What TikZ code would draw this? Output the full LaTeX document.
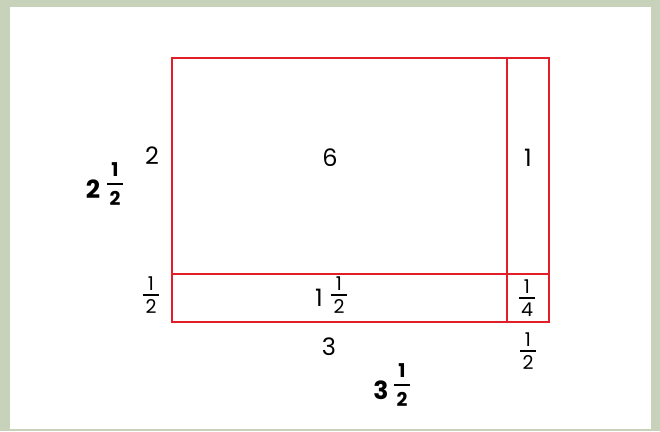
\documentclass[tikz,border=0pt]{standalone}
\usepackage{amsmath}
\usepackage{fontspec}
\setmainfont{Poppins}
\definecolor{bgframe}{RGB}{200,210,186}
\definecolor{boxred}{RGB}{226,30,42}
\newcommand\regfont{\fontsize{24}{26}\selectfont}
\newcommand\boldfont{\fontsize{25}{27}\selectfont\bfseries}
\newcommand\smallfont{\fontsize{19}{20}\selectfont}
\newcommand\smallbold{\fontsize{19}{20}\selectfont\bfseries}
\newcommand\fr[4]{$\displaystyle\genfrac{}{}{#1}{}{\mbox{\makebox[16pt]{#2#3}}}{\mbox{\makebox[16pt]{#2#4}}}$}
\begin{document}
\begin{tikzpicture}[x=1pt,y=-1pt,
  lbl/.style={inner sep=0pt,outer sep=0pt,font=\regfont},
  blbl/.style={inner sep=0pt,outer sep=0pt,font=\boldfont},
  frc/.style={inner sep=0pt,outer sep=0pt},
  redline/.style={draw=boxred,line width=2.3pt,line cap=rect}]
\useasboundingbox (0,0) rectangle (660,431);
\fill[bgframe] (0,0) rectangle (660,431);
\fill[white] (10,7) rectangle (651,429);
% rectangle and dividing lines
\draw[redline] (172,58) rectangle (549,322);
\draw[redline] (507,58) -- (507,322);
\draw[redline] (172,274) -- (549,274);
% labels
\node[lbl] (l2) at (152,156) {2};
\node[lbl] (l6) at (330,157.5) {6};
\node[lbl] (l1) at (528,157.5) {1};
\node[lbl] (l3) at (329,347) {3};
\node[frc] (lh) at (151,295) {\fr{1.3pt}{\smallfont}{1}{2}};
\node[lbl] (lw1) at (319,297.5) {1};
\node[frc] (lf1) at (339,295) {\fr{1.3pt}{\smallfont}{1}{2}};
\node[frc] (lq) at (527,298) {\fr{1.3pt}{\smallfont}{1}{4}};
\node[frc] (lbh) at (528,351) {\fr{1.3pt}{\smallfont}{1}{2}};
\node[blbl] (bw2) at (93,189) {2};
\node[frc] (bf2) at (115,184) {\fr{2pt}{\smallbold}{1}{2}};
\node[blbl] (bw3) at (381,390) {3};
\node[frc] (bf3) at (402,385) {\fr{2pt}{\smallbold}{1}{2}};
\end{tikzpicture}
\end{document}
